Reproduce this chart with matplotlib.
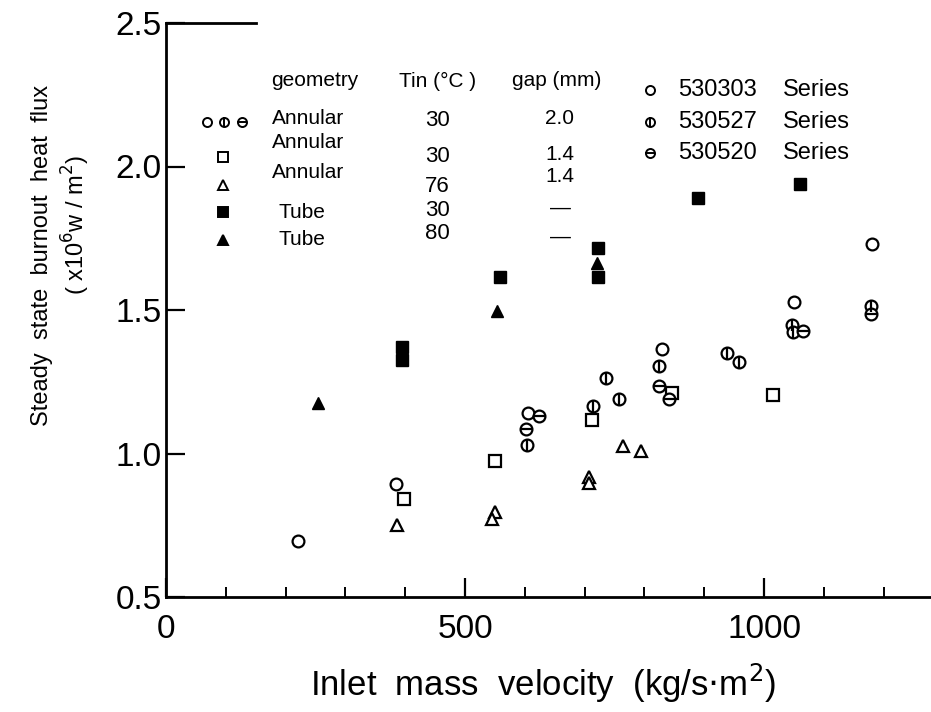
import matplotlib
import matplotlib.pyplot as plt
from matplotlib.ticker import MultipleLocator, FixedLocator

matplotlib.use('Agg')

# Annular, gap 2.0 mm, Tin 30 C  (three test series)
s530303_x = [221, 385, 605, 829, 1050, 1180]
s530303_y = [0.695, 0.894, 1.141, 1.364, 1.528, 1.73]
s530527_x = [604, 714, 736, 758, 824, 938, 958, 1047, 1048, 1179]
s530527_y = [1.030, 1.166, 1.263, 1.190, 1.305, 1.350, 1.319, 1.448, 1.423, 1.514]
s530520_x = [602, 624, 824, 841, 1065, 1179]
s530520_y = [1.085, 1.131, 1.235, 1.190, 1.427, 1.486]

# Annular, gap 1.4 mm
ann30_x = [398, 550, 712, 846, 1015]
ann30_y = [0.841, 0.974, 1.117, 1.211, 1.204]
ann76_x = [386, 550, 545, 707, 707, 764, 794]
ann76_y = [0.751, 0.796, 0.772, 0.918, 0.897, 1.026, 1.009]

# Tube
tube30_x = [395, 395, 558, 722, 722, 890, 1060]
tube30_y = [1.371, 1.326, 1.615, 1.716, 1.615, 1.89, 1.94]
tube80_x = [254, 553, 721]
tube80_y = [1.176, 1.497, 1.664]

headers = ["geometry", "Tin (°C )", "gap (mm)"]
rows = [["Annular", "30", "2.0"],
        ["Annular", "30", "1.4"],
        ["Annular", "76", "1.4"],
        ["Tube", "30", "—"],
        ["Tube", "80", "—"]]
series = ["530303", "530527", "530520"]

W, H = 931, 712
plt.rcParams['font.family'] = ['Liberation Sans', 'DejaVu Sans']

fig = plt.figure(figsize=(W / 100, H / 100), dpi=100)
ax = fig.add_axes([166 / W, 1 - 597 / H, (W - 166) / W, (597 - 23) / H])

ms = 8.5
mew = 1.6
def circ(x, y, bar=None, size=ms):
    ax.plot(x, y, 'o', ms=size, mfc='white', mec='black', mew=mew, ls='none', zorder=3)
    if bar:
        ax.plot(x, y, bar, ms=size, mec='black', mew=mew, ls='none', zorder=4)

circ(s530303_x, s530303_y)
circ(s530527_x, s530527_y, '|')
circ(s530520_x, s530520_y, '_')
ax.plot(ann30_x, ann30_y, 's', ms=8.5, mfc='white', mec='black', mew=mew, ls='none')
ax.plot(ann76_x, ann76_y, '^', ms=8.5, mfc='white', mec='black', mew=mew, ls='none')
ax.plot(tube30_x, tube30_y, 's', ms=8, mfc='black', mec='black', ls='none')
ax.plot(tube80_x, tube80_y, '^', ms=9, mfc='black', mec='black', ls='none')

ax.set_xlim(0, 1279)
ax.set_ylim(0.5, 2.5)
ax.xaxis.set_major_locator(FixedLocator([0, 500, 1000]))
ax.xaxis.set_minor_locator(MultipleLocator(100))
ax.yaxis.set_major_locator(MultipleLocator(0.5))
ax.set_xticklabels(["0", "500", "1000"])
ax.tick_params(axis='both', which='major', direction='in', length=14, width=1.6,
               labelsize=24, colors='black')
ax.tick_params(axis='x', which='major', pad=12)
ax.tick_params(axis='y', which='major', pad=3)
ax.tick_params(axis='x', which='minor', direction='in', length=7, width=1.4)
ax.spines['right'].set_visible(False)
ax.spines['top'].set_bounds(0, 150)
for s in ['left', 'bottom', 'top']:
    ax.spines[s].set_linewidth(2)

# axis titles
fig.text(543 / W, 1 - 683 / H, "Inlet  mass  velocity  (kg/s$\\cdot$m$^2$)",
         ha='center', va='center', fontsize=25)
fig.text(42 / W, 1 - 255 / H, "Steady  state  burnout  heat  flux", rotation=90,
         ha='center', va='center', fontsize=17)
fig.text(76 / W, 1 - 225 / H, "( x10$^6$w / m$^2$)", rotation=90,
         ha='center', va='center', fontsize=17)

# in-plot key
def t(px, py, s, size=15):
    fig.text(px / W, 1 - py / H, s, ha='center', va='center', fontsize=size)

def axpt(px, py):
    return (px - 166) / (W - 166), (597 - py) / (597 - 23)

for hx, h in zip([315, 438, 557], headers):
    t(hx, 81, h)

row_y = [(119, 120, 119), (143, 157, 155), (173, 187, 177), (213, 210, 208), (240, 233, 237)]
for r, ys in zip(rows, row_y):
    gx = 308 if r[0] == "Annular" else 302
    t(gx, ys[0], r[0], 15)
    t(437, ys[1], r[1], 16)
    t(560, ys[2], r[2], 15)

key_marks = [('s', 'white', 157), ('^', 'white', 185), ('s', 'black', 212), ('^', 'black', 240)]
for m, fc, py in key_marks:
    ax.plot(*axpt(223, py), m, ms=6.5, mfc=fc, mec='black', mew=1.4,
            transform=ax.transAxes, clip_on=False)
for px, bar in [(207, None), (224, '|'), (242, '_')]:
    x, y = axpt(px, 122)
    ax.plot(x, y, 'o', ms=6.5, mfc='white', mec='black', mew=1.4, transform=ax.transAxes)
    if bar:
        ax.plot(x, y, bar, ms=6.5, mec='black', mew=1.4, transform=ax.transAxes)

for (py, bar), name in zip([(90, None), (122, '|'), (153, '_')], series):
    x, y = axpt(650, py)
    ax.plot(x, y, 'o', ms=6.5, mfc='white', mec='black', mew=1.4, transform=ax.transAxes)
    if bar:
        ax.plot(x, y, bar, ms=6.5, mec='black', mew=1.4, transform=ax.transAxes)
    fig.text(678 / W, 1 - py / H, name, ha='left', va='center', fontsize=17)
    fig.text(783 / W, 1 - py / H, "Series", ha='left', va='center', fontsize=17)

fig.savefig("out.png", dpi=100)
